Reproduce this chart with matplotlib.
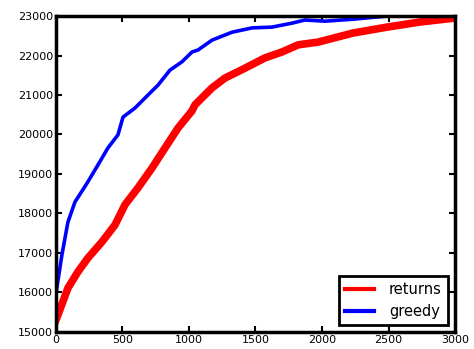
import matplotlib
matplotlib.use("Agg")
import matplotlib.pyplot as plt

# values
greedy_x = [0, 15, 45, 90, 143, 240, 316, 391, 466, 504, 594, 692, 767, 857, 947,
            1023, 1068, 1173, 1323, 1474, 1624, 1774, 1872, 2023, 2233, 2489, 2750, 3000]
greedy_y = [15950, 16300, 16950, 17780, 18290, 18800, 19230, 19660, 19990, 20440, 20670,
            21000, 21250, 21630, 21840, 22090, 22140, 22390, 22590, 22700, 22720, 22820,
            22900, 22870, 22920, 23000, 23020, 23030]

returns_x = [0, 15, 90, 165, 240, 346, 444, 519, 617, 722, 820, 917, 1023, 1045, 1173,
             1271, 1421, 1571, 1699, 1820, 1970, 2233, 2489, 2737, 3000]
returns_y = [15300, 15430, 16110, 16520, 16870, 17280, 17710, 18220, 18650, 19150, 19660,
             20160, 20600, 20750, 21180, 21430, 21680, 21940, 22090, 22270, 22340, 22570,
             22720, 22850, 22950]

x_ticks = [0, 500, 1000, 1500, 2000, 2500, 3000]
y_ticks = [15000, 16000, 17000, 18000, 19000, 20000, 21000, 22000, 23000]

fig = plt.figure(figsize=(4.74, 3.49), dpi=100)
ax = fig.add_axes([0.118, 0.049, 0.842, 0.905])

ax.plot(returns_x, returns_y, color='red', linewidth=5.5, label='returns', solid_joinstyle='round')
ax.plot(greedy_x, greedy_y, color='blue', linewidth=2.6, label='greedy', solid_joinstyle='round')

ax.set_xlim(0, 3000)
ax.set_ylim(15000, 23000)
ax.set_xticks(x_ticks)
ax.set_yticks(y_ticks)
ax.tick_params(direction='in', top=True, right=True, labelsize=8, length=4, width=1.5, pad=2)
for sp in ax.spines.values():
    sp.set_linewidth(2.5)

leg = ax.legend(loc='lower right', fancybox=False, fontsize=10.5, handlelength=2.0,
                handletextpad=1.0, borderpad=0.4, labelspacing=0.45, framealpha=1)
leg.get_frame().set_edgecolor('black')
leg.get_frame().set_linewidth(2)
for line in leg.get_lines():
    line.set_linewidth(3)

fig.savefig('out.png', dpi=100)
